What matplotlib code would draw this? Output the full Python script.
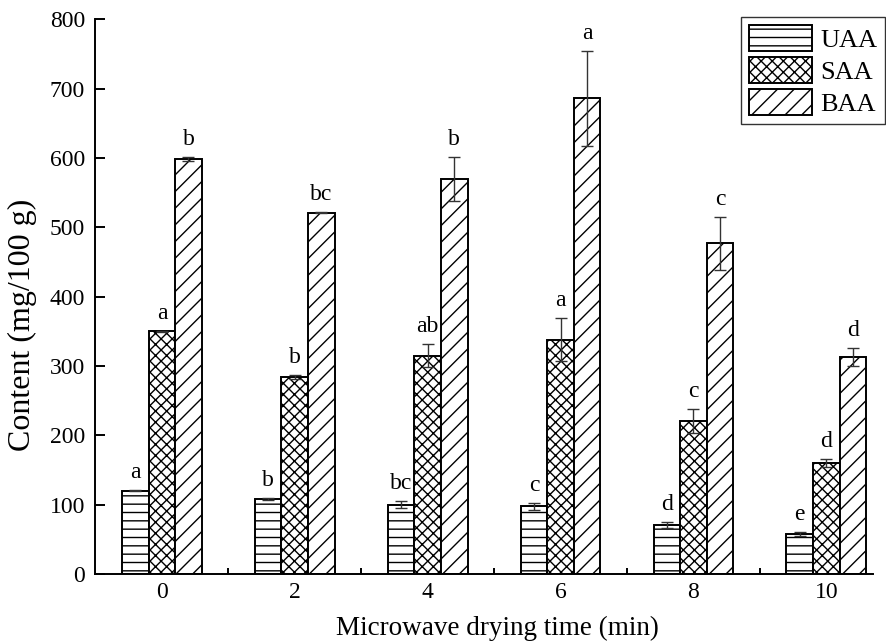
import numpy as np
import matplotlib.pyplot as plt

plt.rcParams['font.family'] = ['Liberation Serif', 'DejaVu Serif']
plt.rcParams['hatch.linewidth'] = 1.0

times = ['0', '2', '4', '6', '8', '10']
series = ['UAA', 'SAA', 'BAA']

uaa = [120, 108, 100, 98, 71, 58]
uaa_err = [1, 1, 5, 5, 4, 3]
uaa_lbl = ['a', 'b', 'bc', 'c', 'd', 'e']

saa = [350, 284, 315, 338, 221, 160]
saa_err = [1, 3, 17, 31, 17, 6]
saa_lbl = ['a', 'b', 'ab', 'a', 'c', 'd']

baa = [598, 521, 570, 686, 477, 313]
baa_err = [3, 1, 32, 68, 38, 13]
baa_lbl = ['b', 'bc', 'b', 'a', 'c', 'd']

hatches = ['--', 'xxx', '//']

fig = plt.figure(figsize=(8.87, 6.44), dpi=100)
ax = fig.add_axes([0.107, 0.1087, 0.877, 0.8613])

x = np.arange(len(times))
w = 0.2
data = [(uaa, uaa_err, uaa_lbl), (saa, saa_err, saa_lbl), (baa, baa_err, baa_lbl)]
for i, (vals, errs, lbls) in enumerate(data):
    pos = x + (i - 1) * w
    ax.bar(pos, vals, w, color='white', edgecolor='black', linewidth=1.4,
           hatch=hatches[i], label=series[i], zorder=2)
    ax.errorbar(pos, vals, yerr=errs, fmt='none', ecolor='#333333',
                elinewidth=1.0, capsize=4, capthick=1.0, zorder=3)
    for p, v, e, s in zip(pos, vals, errs, lbls):
        ax.annotate(s, (p, v + e), xytext=(0, 5), textcoords='offset points',
                    ha='center', va='bottom', fontsize=17)

ax.set_xlim(-0.504, 5.35)
ax.set_ylim(0, 800)
ax.set_xticks(x)
ax.set_xticklabels(times)
ax.set_xticks(x[:-1] + 0.5, minor=True)
ax.set_yticks(np.arange(0, 801, 100))
ax.tick_params(axis='both', which='major', direction='in', length=7, width=1.4,
               labelsize=17, pad=7)
ax.tick_params(axis='x', which='minor', direction='in', length=4, width=1.4)
ax.tick_params(axis='x', which='major', length=0, pad=6)
for s in ['top', 'right']:
    ax.spines[s].set_visible(False)
for s in ['left', 'bottom']:
    ax.spines[s].set_linewidth(1.4)

ax.set_xlabel('Microwave drying time (min)', fontsize=19.5)
ax.set_ylabel('Content (mg/100 g)', fontsize=23)
ax.xaxis.set_label_coords(0.517, -0.075)
ax.yaxis.set_label_coords(-0.0745, 0.45)

leg = ax.legend(loc='upper right', fontsize=19, fancybox=False, edgecolor='black',
                handlelength=2.4, handleheight=1.15, handletextpad=0.3,
                labelspacing=0.2, borderpad=0.3, borderaxespad=0.0,
                bbox_to_anchor=(0.998, 0.974), bbox_transform=fig.transFigure)
leg.get_frame().set_linewidth(1.0)

fig.savefig('out.png', dpi=100)
